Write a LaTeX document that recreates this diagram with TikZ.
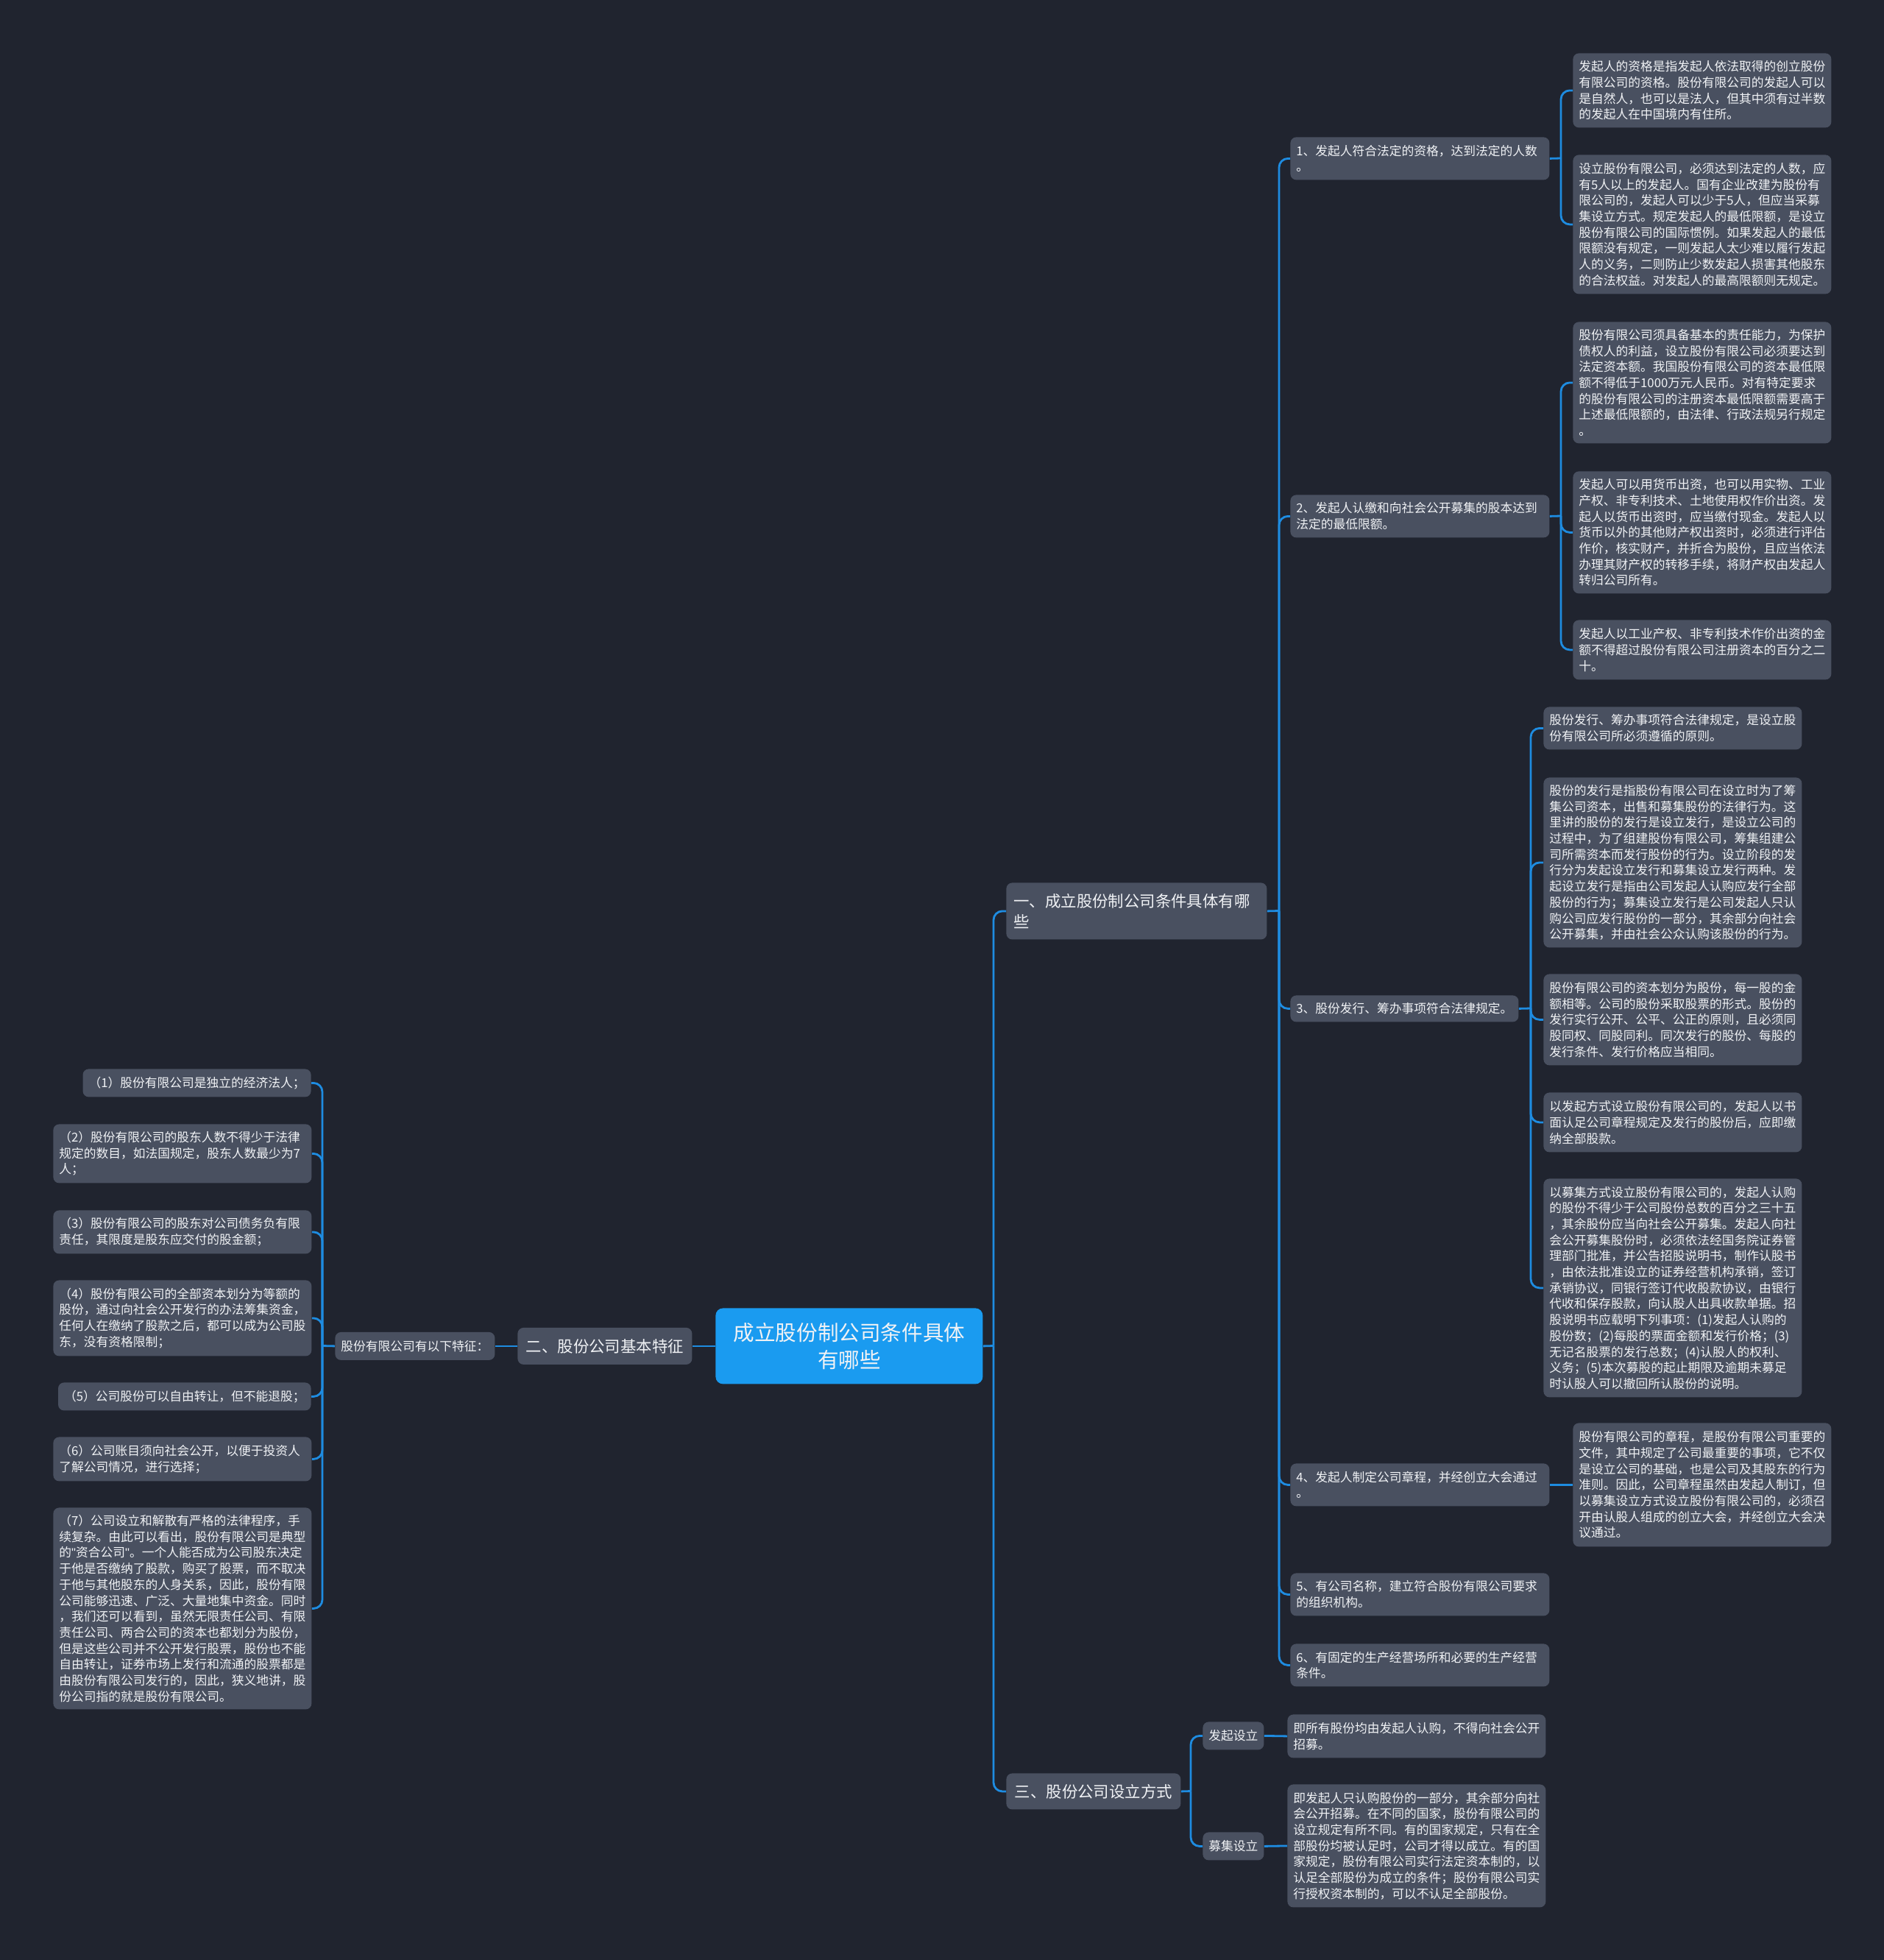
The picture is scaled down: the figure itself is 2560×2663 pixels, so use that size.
\documentclass[tikz,border=0pt]{standalone}
\usepackage{fontspec}
\setmainfont{Noto Sans CJK SC}
\newfontfamily\latinf{Liberation Sans}
\definecolor{bgc}{RGB}{32,36,47}
\definecolor{nodec}{RGB}{73,80,96}
\definecolor{linec}{RGB}{30,140,225}
\definecolor{rootc}{RGB}{26,155,240}
\definecolor{txtc}{RGB}{240,242,245}
\newcommand\leaffont{\fontsize{8.375pt}{10.85pt}\selectfont}
\newcommand\midfont{\fontsize{10.7pt}{14pt}\selectfont}
\newcommand\rootfont{\fontsize{14.3pt}{18.5pt}\selectfont}
\newcommand\dq{{\latinf\symbol{34}}}
\begin{document}
\begin{tikzpicture}[x=0.5pt,y=-0.5pt,
 box/.style={fill=nodec, rounded corners=4pt, text=txtc, inner xsep=4pt, inner ysep=3pt, align=left, font=\leaffont},
 nw/.style={anchor=north west},
 ne/.style={anchor=north east},
 bh/.style={minimum height=#1*0.5pt},
 wide/.style={text width=167.5pt},
 mid/.style={box, font=\midfont, inner xsep=5.75pt},
 conn/.style={draw=linec, line width=1.4pt, rounded corners=6pt},
]
\fill[bgc] (0,0) rectangle (2560,2663);
\useasboundingbox (0,0) rectangle (2560,2663);

% root
\node[box, fill=rootc, font=\rootfont, align=center, minimum width=181.5pt, bh=103, nw, rounded corners=5pt] (root) at (972,1777) {成立股份制公司条件具体\\有哪些};

% level 1
\node[mid, text width=167pt, inner xsep=5pt, bh=77, nw] (c1) at (1367,1199) {一、成立股份制公司条件具体有哪\\些};
\node[mid, bh=50, nw] (c2) at (703,1803.5) {二、股份公司基本特征};
\node[mid, bh=49, nw] (c3) at (1367,2409) {三、股份公司设立方式};

% level 2 under c1
\node[box, text width=168pt, bh=58, nw] (n1) at (1753,186) {1、发起人符合法定的资格，达到法定的人数\\。};
\node[box, text width=168pt, bh=58, nw] (n2) at (1753,672) {2、发起人认缴和向社会公开募集的股本达到\\法定的最低限额。};
\node[box, bh=36, nw] (n3) at (1753,1352) {3、股份发行、筹办事项符合法律规定。};
\node[box, text width=168pt, bh=58, nw] (n4) at (1753,1988) {4、发起人制定公司章程，并经创立大会通过\\。};
\node[box, text width=168pt, bh=58, nw] (n5) at (1753,2137) {5、有公司名称，建立符合股份有限公司要求\\的组织机构。};
\node[box, text width=168pt, bh=58, nw] (n6) at (1753,2233) {6、有固定的生产经营场所和必要的生产经营\\条件。};

% leaves of n1
\node[box, wide, bh=101, nw] (l1a) at (2137,72) {发起人的资格是指发起人依法取得的创立股份\\
有限公司的资格。股份有限公司的发起人可以\\
是自然人，也可以是法人，但其中须有过半数\\
的发起人在中国境内有住所。};
\node[box, wide, bh=189, nw] (l1b) at (2137,210) {设立股份有限公司，必须达到法定的人数，应\\
有5人以上的发起人。国有企业改建为股份有\\
限公司的，发起人可以少于5人，但应当采募\\
集设立方式。规定发起人的最低限额，是设立\\
股份有限公司的国际惯例。如果发起人的最低\\
限额没有规定，一则发起人太少难以履行发起\\
人的义务，二则防止少数发起人损害其他股东\\
的合法权益。对发起人的最高限额则无规定。};

% leaves of n2
\node[box, wide, bh=165, nw] (l2a) at (2137,437) {股份有限公司须具备基本的责任能力，为保护\\
债权人的利益，设立股份有限公司必须要达到\\
法定资本额。我国股份有限公司的资本最低限\\
额不得低于1000万元人民币。对有特定要求\\
的股份有限公司的注册资本最低限额需要高于\\
上述最低限额的，由法律、行政法规另行规定\\
。};
\node[box, wide, bh=166, nw] (l2b) at (2137,640) {发起人可以用货币出资，也可以用实物、工业\\
产权、非专利技术、土地使用权作价出资。发\\
起人以货币出资时，应当缴付现金。发起人以\\
货币以外的其他财产权出资时，必须进行评估\\
作价，核实财产，并折合为股份，且应当依法\\
办理其财产权的转移手续，将财产权由发起人\\
转归公司所有。};
\node[box, wide, bh=81, nw] (l2c) at (2137,842) {发起人以工业产权、非专利技术作价出资的金\\
额不得超过股份有限公司注册资本的百分之二\\
十。};

% leaves of n3
\node[box, wide, bh=58, nw] (l3a) at (2097,960) {股份发行、筹办事项符合法律规定，是设立股\\
份有限公司所必须遵循的原则。};
\node[box, wide, bh=231, nw] (l3b) at (2097,1056) {股份的发行是指股份有限公司在设立时为了筹\\
集公司资本，出售和募集股份的法律行为。这\\
里讲的股份的发行是设立发行，是设立公司的\\
过程中，为了组建股份有限公司，筹集组建公\\
司所需资本而发行股份的行为。设立阶段的发\\
行分为发起设立发行和募集设立发行两种。发\\
起设立发行是指由公司发起人认购应发行全部\\
股份的行为；募集设立发行是公司发起人只认\\
购公司应发行股份的一部分，其余部分向社会\\
公开募集，并由社会公众认购该股份的行为。};
\node[box, wide, bh=124, nw] (l3c) at (2097,1323) {股份有限公司的资本划分为股份，每一股的金\\
额相等。公司的股份采取股票的形式。股份的\\
发行实行公开、公平、公正的原则，且必须同\\
股同权、同股同利。同次发行的股份、每股的\\
发行条件、发行价格应当相同。};
\node[box, wide, bh=81, nw] (l3d) at (2097,1484) {以发起方式设立股份有限公司的，发起人以书\\
面认足公司章程规定及发行的股份后，应即缴\\
纳全部股款。};
\node[box, wide, bh=297, nw] (l3e) at (2097,1601) {以募集方式设立股份有限公司的，发起人认购\\
的股份不得少于公司股份总数的百分之三十五\\
，其余股份应当向社会公开募集。发起人向社\\
会公开募集股份时，必须依法经国务院证券管\\
理部门批准，并公告招股说明书，制作认股书\\
，由依法批准设立的证券经营机构承销，签订\\
承销协议，同银行签订代收股款协议，由银行\\
代收和保存股款，向认股人出具收款单据。招\\
股说明书应载明下列事项：(1)发起人认购的\\
股份数；(2)每股的票面金额和发行价格；(3)\\
无记名股票的发行总数；(4)认股人的权利、\\
义务；(5)本次募股的起止期限及逾期未募足\\
时认股人可以撤回所认股份的说明。};

% leaf of n4
\node[box, wide, bh=168, nw] (l4) at (2137,1933) {股份有限公司的章程，是股份有限公司重要的\\
文件，其中规定了公司最重要的事项，它不仅\\
是设立公司的基础，也是公司及其股东的行为\\
准则。因此，公司章程虽然由发起人制订，但\\
以募集设立方式设立股份有限公司的，必须召\\
开由认股人组成的创立大会，并经创立大会决\\
议通过。};

% left side
\node[box, bh=38, nw] (feat) at (455,1809.5) {股份有限公司有以下特征：};
\node[box, bh=38, ne] (ll1) at (423,1452) {（1）股份有限公司是独立的经济法人；};
\node[box, wide, bh=80, nw] (ll2) at (72,1527) {（2）股份有限公司的股东人数不得少于法律\\
规定的数目，如法国规定，股东人数最少为7\\
人；};
\node[box, wide, bh=59, nw] (ll3) at (72,1644) {（3）股份有限公司的股东对公司债务负有限\\
责任，其限度是股东应交付的股金额；};
\node[box, wide, bh=103, nw] (ll4) at (72,1739) {（4）股份有限公司的全部资本划分为等额的\\
股份，通过向社会公开发行的办法筹集资金，\\
任何人在缴纳了股款之后，都可以成为公司股\\
东，没有资格限制；};
\node[box, bh=38, ne] (ll5) at (423,1878) {（5）公司股份可以自由转让，但不能退股；};
\node[box, wide, bh=60, nw] (ll6) at (72,1952) {（6）公司账目须向社会公开，以便于投资人\\
了解公司情况，进行选择；};
\node[box, wide, bh=274, nw] (ll7) at (72,2048) {（7）公司设立和解散有严格的法律程序，手\\
续复杂。由此可以看出，股份有限公司是典型\\
的\dq 资合公司\dq 。一个人能否成为公司股东决定\\
于他是否缴纳了股款，购买了股票，而不取决\\
于他与其他股东的人身关系，因此，股份有限\\
公司能够迅速、广泛、大量地集中资金。同时\\
，我们还可以看到，虽然无限责任公司、有限\\
责任公司、两合公司的资本也都划分为股份，\\
但是这些公司并不公开发行股票，股份也不能\\
自由转让，证券市场上发行和流通的股票都是\\
由股份有限公司发行的，因此，狭义地讲，股\\
份公司指的就是股份有限公司。};

% branch 3
\node[box, bh=38, nw] (k1) at (1634,2339) {发起设立};
\node[box, bh=38, nw] (k2) at (1634,2489) {募集设立};
\node[box, wide, bh=59, nw] (k1l) at (1749,2329) {即所有股份均由发起人认购，不得向社会公开\\
招募。};
\node[box, wide, bh=167, nw] (k2l) at (1749,2424) {即发起人只认购股份的一部分，其余部分向社\\
会公开招募。在不同的国家，股份有限公司的\\
设立规定有所不同。有的国家规定，只有在全\\
部股份均被认足时，公司才得以成立。有的国\\
家规定，股份有限公司实行法定资本制的，以\\
认足全部股份为成立的条件；股份有限公司实\\
行授权资本制的，可以不认足全部股份。};

% connectors
\coordinate (sR) at (1350,1828.5);
\draw[conn] (root.east) -- (sR);
\draw[conn] (sR) |- (c1.west);
\draw[conn] (sR) |- (c3.west);
\draw[conn] (root.west) -- (c2.east);
\draw[conn] (c2.west) -- (feat.east);
\coordinate (sL) at (438,1828.5);
\draw[conn] (feat.west) -- (sL);
\foreach \nm in {ll1,ll2,ll3,ll4,ll5,ll6,ll7} \draw[conn] (sL) |- (\nm.east);
\coordinate (s1) at (1738,1237.5);
\draw[conn] (c1.east) -- (s1);
\foreach \nm in {n1,n2,n3,n4,n5,n6} \draw[conn] (s1) |- (\nm.west);
\coordinate (sn1) at (2121,215);
\draw[conn] (n1.east) -- (sn1);
\foreach \nm in {l1a,l1b} \draw[conn] (sn1) |- (\nm.west);
\coordinate (sn2) at (2121,701);
\draw[conn] (n2.east) -- (sn2);
\foreach \nm in {l2a,l2b,l2c} \draw[conn] (sn2) |- (\nm.west);
\coordinate (sn3) at (2080,1370);
\draw[conn] (n3.east) -- (sn3);
\foreach \nm in {l3a,l3b,l3c,l3d,l3e} \draw[conn] (sn3) |- (\nm.west);
\draw[conn] (n4.east) -- (l4.west);
\coordinate (s3) at (1618,2433.5);
\draw[conn] (c3.east) -- (s3);
\draw[conn] (s3) |- (k1.west);
\draw[conn] (s3) |- (k2.west);
\draw[conn] (k1.east) -- (k1l.west);
\draw[conn] (k2.east) -- (k2l.west);
\end{tikzpicture}
\end{document}
